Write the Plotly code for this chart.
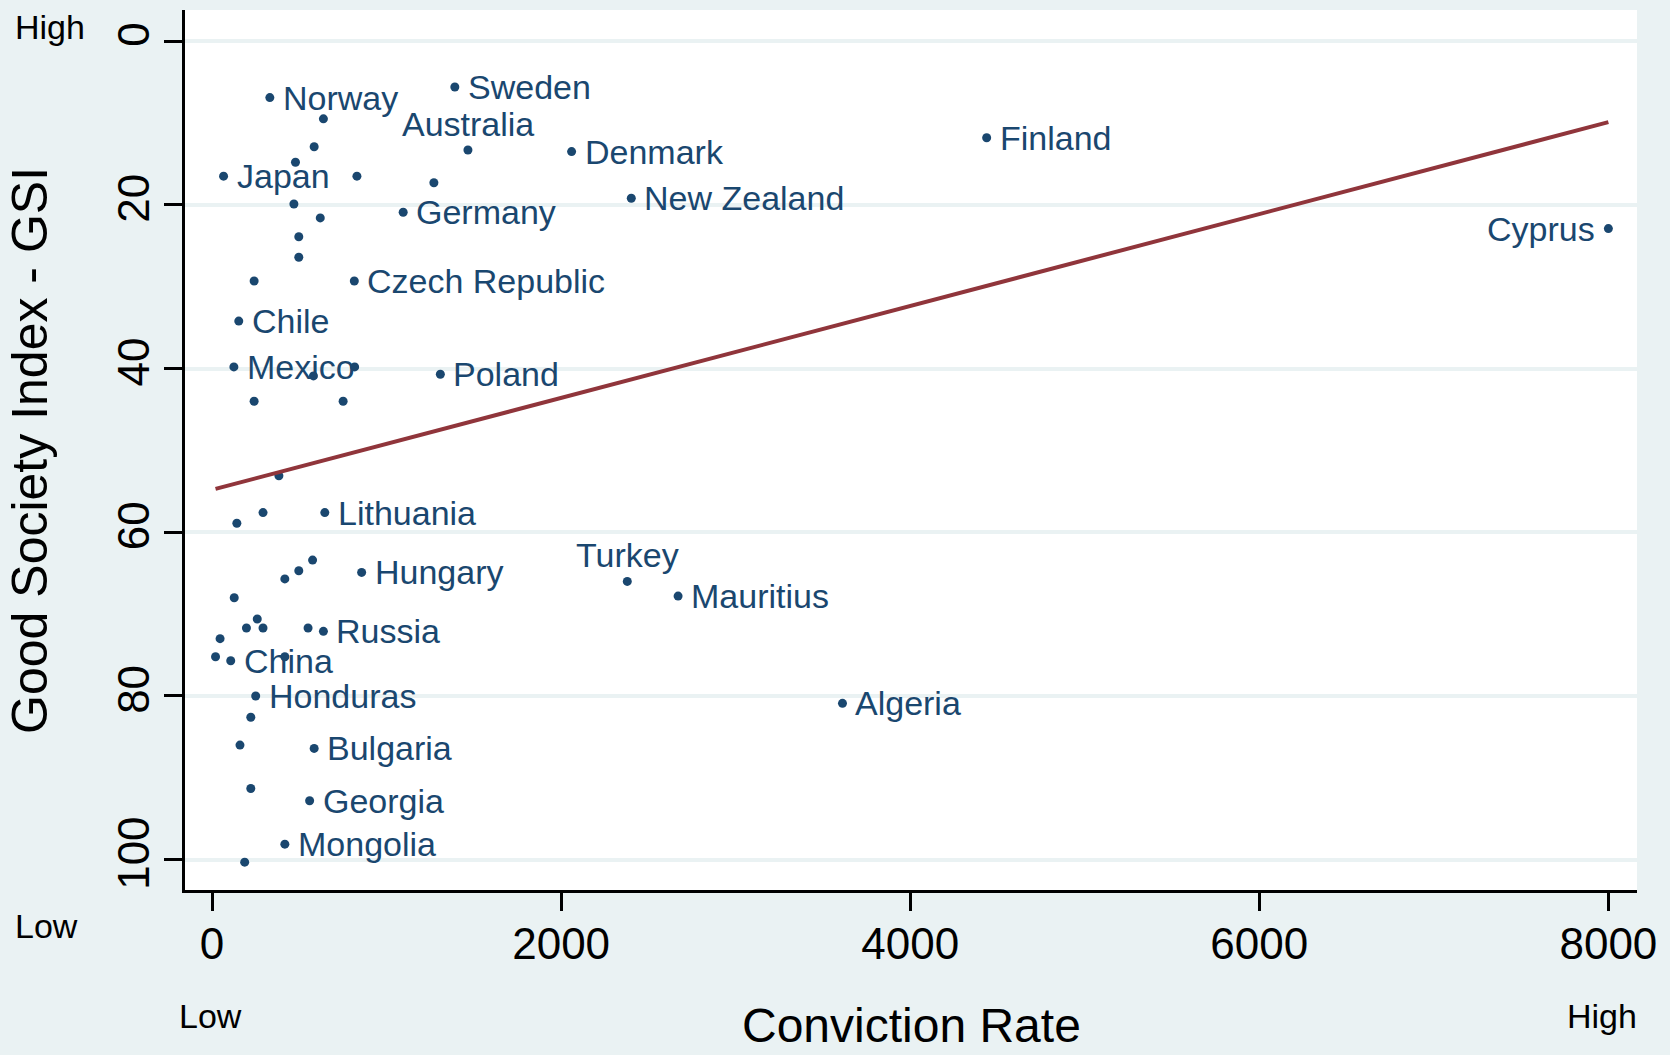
import plotly.graph_objects as go

# Countries shown with a name label: conviction rate and Good Society Index (GSI)
labelled_names = [
    "Norway", "Sweden", "Australia", "Denmark", "Finland", "Japan",
    "New Zealand", "Germany", "Cyprus", "Czech Republic", "Chile", "Mexico",
    "Poland", "Lithuania", "Hungary", "Turkey", "Mauritius", "Russia",
    "China", "Honduras", "Algeria", "Bulgaria", "Georgia", "Mongolia",
]
labelled_rate = [
    331, 1391, 1466, 2060, 4438, 66,
    2402, 1095, 8000, 815, 153, 125,
    1308, 646, 857, 2379, 2670, 638,
    107, 250, 3612, 585, 559, 417,
]
labelled_gsi = [
    6.9, 5.6, 13.3, 13.5, 11.8, 16.5,
    19.2, 20.9, 22.9, 29.3, 34.2, 39.8,
    40.7, 57.6, 64.9, 66.0, 67.8, 72.1,
    75.7, 80.0, 80.9, 86.4, 92.8, 98.1,
]

# Remaining countries, drawn without labels
other_rate = [
    638, 585, 478, 830, 1271, 469, 620, 497, 497, 241,
    581, 817, 241, 751, 383, 142, 292, 576, 497, 417,
    127, 259, 197, 292, 550, 46, 20, 417, 222,
    160, 222, 187,
]
other_gsi = [
    9.5, 12.9, 14.8, 16.5, 17.3, 19.9, 21.6, 23.9, 26.4, 29.3,
    40.9, 39.8, 44.0, 44.0, 53.1, 58.9, 57.6, 63.4, 64.7, 65.7,
    68.0, 70.6, 71.7, 71.7, 71.7, 73.0, 75.2, 75.2, 82.6,
    86.0, 91.3, 100.3,
]

# Linear fit of GSI on conviction rate, over the observed range
fit_rate = [20, 8000]
fit_gsi = [54.7, 9.9]

# Axis ticks
x_ticks = [0, 2000, 4000, 6000, 8000]
y_ticks = [0, 20, 40, 60, 80, 100]

NAVY = "#1A476F"
MAROON = "#90353B"
BLUISH = "#EAF2F3"
FONT = "Liberation Sans, Arial, sans-serif"

# Where each label sits relative to its point (default: to the right)
label_side = {"Australia": "above", "Turkey": "above", "Cyprus": "left"}

fig = go.Figure()

fig.add_trace(go.Scatter(
    x=other_rate + labelled_rate,
    y=other_gsi + labelled_gsi,
    mode="markers",
    marker=dict(color=NAVY, size=9, line=dict(width=0)),
    hoverinfo="x+y",
))

fig.add_trace(go.Scatter(
    x=fit_rate,
    y=fit_gsi,
    mode="lines",
    line=dict(color=MAROON, width=4),
    hoverinfo="skip",
))

annotations = []
for name, rate, gsi in zip(labelled_names, labelled_rate, labelled_gsi):
    side = label_side.get(name, "right")
    ann = dict(
        x=rate, y=gsi, xref="x", yref="y", text=name, showarrow=False,
        font=dict(family=FONT, size=34, color=NAVY),
    )
    if side == "right":
        ann.update(xanchor="left", yanchor="middle", xshift=11)
    elif side == "left":
        ann.update(xanchor="right", yanchor="middle", xshift=-11)
    else:
        ann.update(xanchor="center", yanchor="bottom", yshift=5)
    annotations.append(ann)

# Axis titles and Low / High end markers
def paper_text(text, x, y, size, xanchor="center", angle=0):
    return dict(
        x=x, y=y, xref="paper", yref="paper", text=text, showarrow=False,
        xanchor=xanchor, yanchor="middle", textangle=angle,
        font=dict(family=FONT, size=size, color="black"),
    )

annotations += [
    paper_text("Conviction Rate", 0.5, -0.1540, 48),
    paper_text("Good Society Index - GSI", -0.1068, 0.5, 50, angle=-90),
    paper_text("High", -0.1188, 0.9805, 34, xanchor="left"),
    paper_text("Low", -0.1188, -0.0408, 34, xanchor="left"),
    paper_text("Low", 0.0176, -0.1431, 34),
    paper_text("High", 0.9759, -0.1431, 34),
]

fig.update_layout(
    width=1670,
    height=1055,
    margin=dict(l=185, r=33, t=10, b=165),
    paper_bgcolor=BLUISH,
    plot_bgcolor="white",
    showlegend=False,
    annotations=annotations,
    xaxis=dict(
        range=[-155, 8164],
        tickvals=x_ticks,
        showgrid=False,
        zeroline=False,
        showline=True,
        linecolor="black",
        linewidth=3,
        ticks="outside",
        ticklen=18,
        tickwidth=3,
        tickcolor="black",
        ticklabelstandoff=-5,
        tickfont=dict(family=FONT, size=44, color="black"),
    ),
    yaxis=dict(
        range=[103.7, -3.8],
        tickvals=y_ticks,
        tickangle=-90,
        showgrid=True,
        gridcolor=BLUISH,
        gridwidth=4,
        zeroline=False,
        showline=True,
        linecolor="black",
        linewidth=3,
        ticks="outside",
        ticklen=18,
        tickwidth=3,
        tickcolor="black",
        ticklabelstandoff=-3,
        tickfont=dict(family=FONT, size=44, color="black"),
    ),
)

fig.write_html("out.html")
